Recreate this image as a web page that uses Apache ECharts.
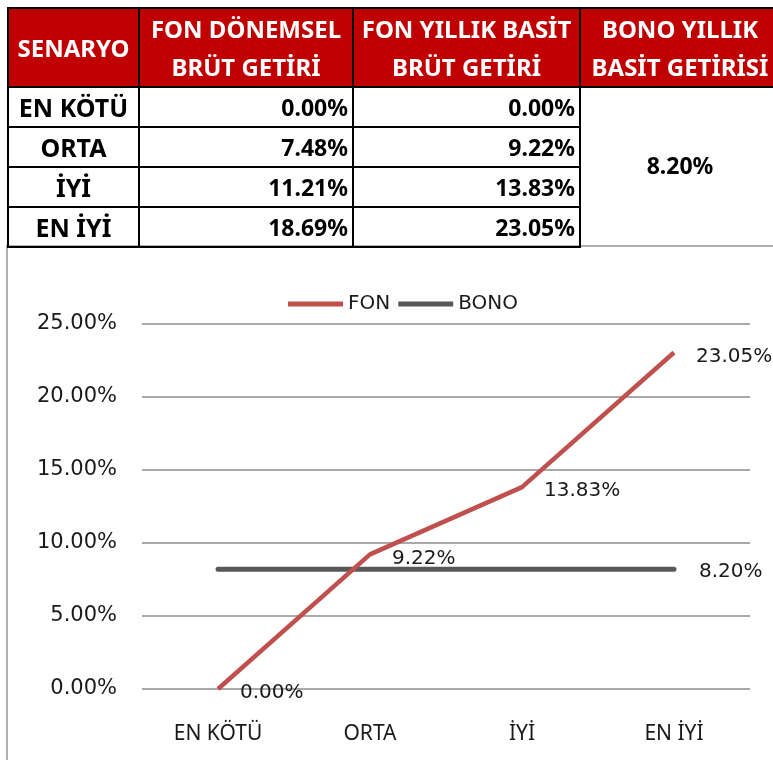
<!DOCTYPE html>
<html>
<head>
<meta charset="utf-8">
<script src="https://cdn.jsdelivr.net/npm/echarts@6/dist/echarts.min.js"></script>
<style>
  html, body { margin: 0; padding: 0; background: #fff; }
  #wrap { position: relative; width: 773px; height: 760px; overflow: hidden; }
  #chart { position: absolute; left: 0; top: 0; width: 773px; height: 760px; }
  #box { position: absolute; left: 6px; top: 245px; width: 780px; height: 530px;
         border: 2px solid #b0b0b0; box-sizing: border-box; }
  table { position: absolute; left: 7px; top: 7px; border-collapse: collapse;
          font-family: "Noto Sans", sans-serif; font-weight: bold; font-size: 23px; }
  th, td { border: 2px solid #000; padding: 0 4px; line-height: 1; }
  th { background: #c00000; color: #fff; height: 77px; line-height: 38px; font-size: 24px;
       padding: 0 2px; white-space: nowrap; }
  td { height: 38px; color: #000; }
  td.num { text-align: right; }
  td.cat { text-align: center; font-size: 25px; }
  td.bono { text-align: center; border-right: none; border-bottom: none; padding-bottom: 4px; }
  th.last { border-right: none; }
</style>
</head>
<body>
<div id="wrap">
  <div id="box"></div>
  <div id="chart"></div>
  <table id="tbl"></table>
</div>
<script>
// table headers
const headers = ['SENARYO', 'FON DÖNEMSEL<br>BRÜT GETİRİ', 'FON YILLIK BASİT<br>BRÜT GETİRİ', 'BONO YILLIK<br>BASİT GETİRİSİ'];
// scenarios
const scenarios = ['EN KÖTÜ', 'ORTA', 'İYİ', 'EN İYİ'];
// fund returns (%)
const fonDonemsel = [0.00, 7.48, 11.21, 18.69];
const fonYillik = [0.00, 9.22, 13.83, 23.05];
// bond return (%)
const bonoYillik = 8.20;
const bonoSeries = scenarios.map(() => bonoYillik);
// y axis
const yMax = 25;
const yStep = 5;

const colW = [131, 214, 227, 200];
const fmt = (v) => v.toFixed(2) + '%';

// build table
let html = '<tr>' + headers.map((h, i) =>
  `<th class="${i === 3 ? 'last' : ''}" style="width:${colW[i] - 6}px;min-width:${colW[i] - 6}px;max-width:${colW[i] - 6}px">${h}</th>`).join('') + '</tr>';
scenarios.forEach((s, i) => {
  html += '<tr>';
  html += `<td class="cat">${s}</td>`;
  html += `<td class="num">${fmt(fonDonemsel[i])}</td>`;
  html += `<td class="num">${fmt(fonYillik[i])}</td>`;
  if (i === 0) html += `<td class="bono" rowspan="${scenarios.length}">${fmt(bonoYillik)}</td>`;
  html += '</tr>';
});
document.getElementById('tbl').innerHTML = html;

const chart = echarts.init(document.getElementById('chart'));
const labelFont = { fontFamily: 'DejaVu Sans', fontSize: 20, color: '#1a1a1a' };

chart.setOption({
  animation: false,
  legend: {
    left: 288,
    top: 294,
    padding: 0,
    itemWidth: 55,
    itemHeight: 5,
    itemGap: 8,
    icon: 'rect',
    textStyle: Object.assign({}, labelFont, { fontSize: 20 }),
    data: ['FON', 'BONO']
  },
  grid: { left: 142, right: 23, top: 324, bottom: 71 },
  xAxis: {
    type: 'category',
    data: scenarios,
    axisLine: { show: false },
    axisTick: { show: false },
    axisLabel: { fontFamily: 'Noto Sans', fontSize: 21, color: '#1a1a1a', margin: 35 }
  },
  yAxis: {
    type: 'value',
    min: 0,
    max: yMax,
    interval: yStep,
    axisLine: { show: false },
    axisTick: { show: false },
    axisLabel: Object.assign({}, labelFont, { fontSize: 21, margin: 25, formatter: (v) => fmt(v) }),
    splitLine: { lineStyle: { color: '#8c8c8c', width: 1.5 } }
  },
  series: [
    {
      name: 'FON',
      type: 'line',
      data: fonYillik,
      symbol: 'circle',
      symbolSize: 0,
      color: '#c0504d',
      lineStyle: { width: 4.5, color: '#c0504d' },
      label: Object.assign({ show: true, position: 'right', distance: 22, offset: [0, 4],
        formatter: (p) => fmt(p.value) }, labelFont),
      z: 3
    },
    {
      name: 'BONO',
      type: 'line',
      data: bonoSeries.map((v, i) => i === bonoSeries.length - 1
        ? { value: v, label: { show: true } } : v),
      symbol: 'circle',
      symbolSize: 0,
      color: '#595959',
      lineStyle: { width: 5, color: '#595959', cap: 'round' },
      label: Object.assign({ show: false, position: 'right', distance: 25, offset: [0, 3],
        formatter: (p) => fmt(p.value) }, labelFont),
      z: 2
    }
  ]
});
</script>
</body>
</html>
